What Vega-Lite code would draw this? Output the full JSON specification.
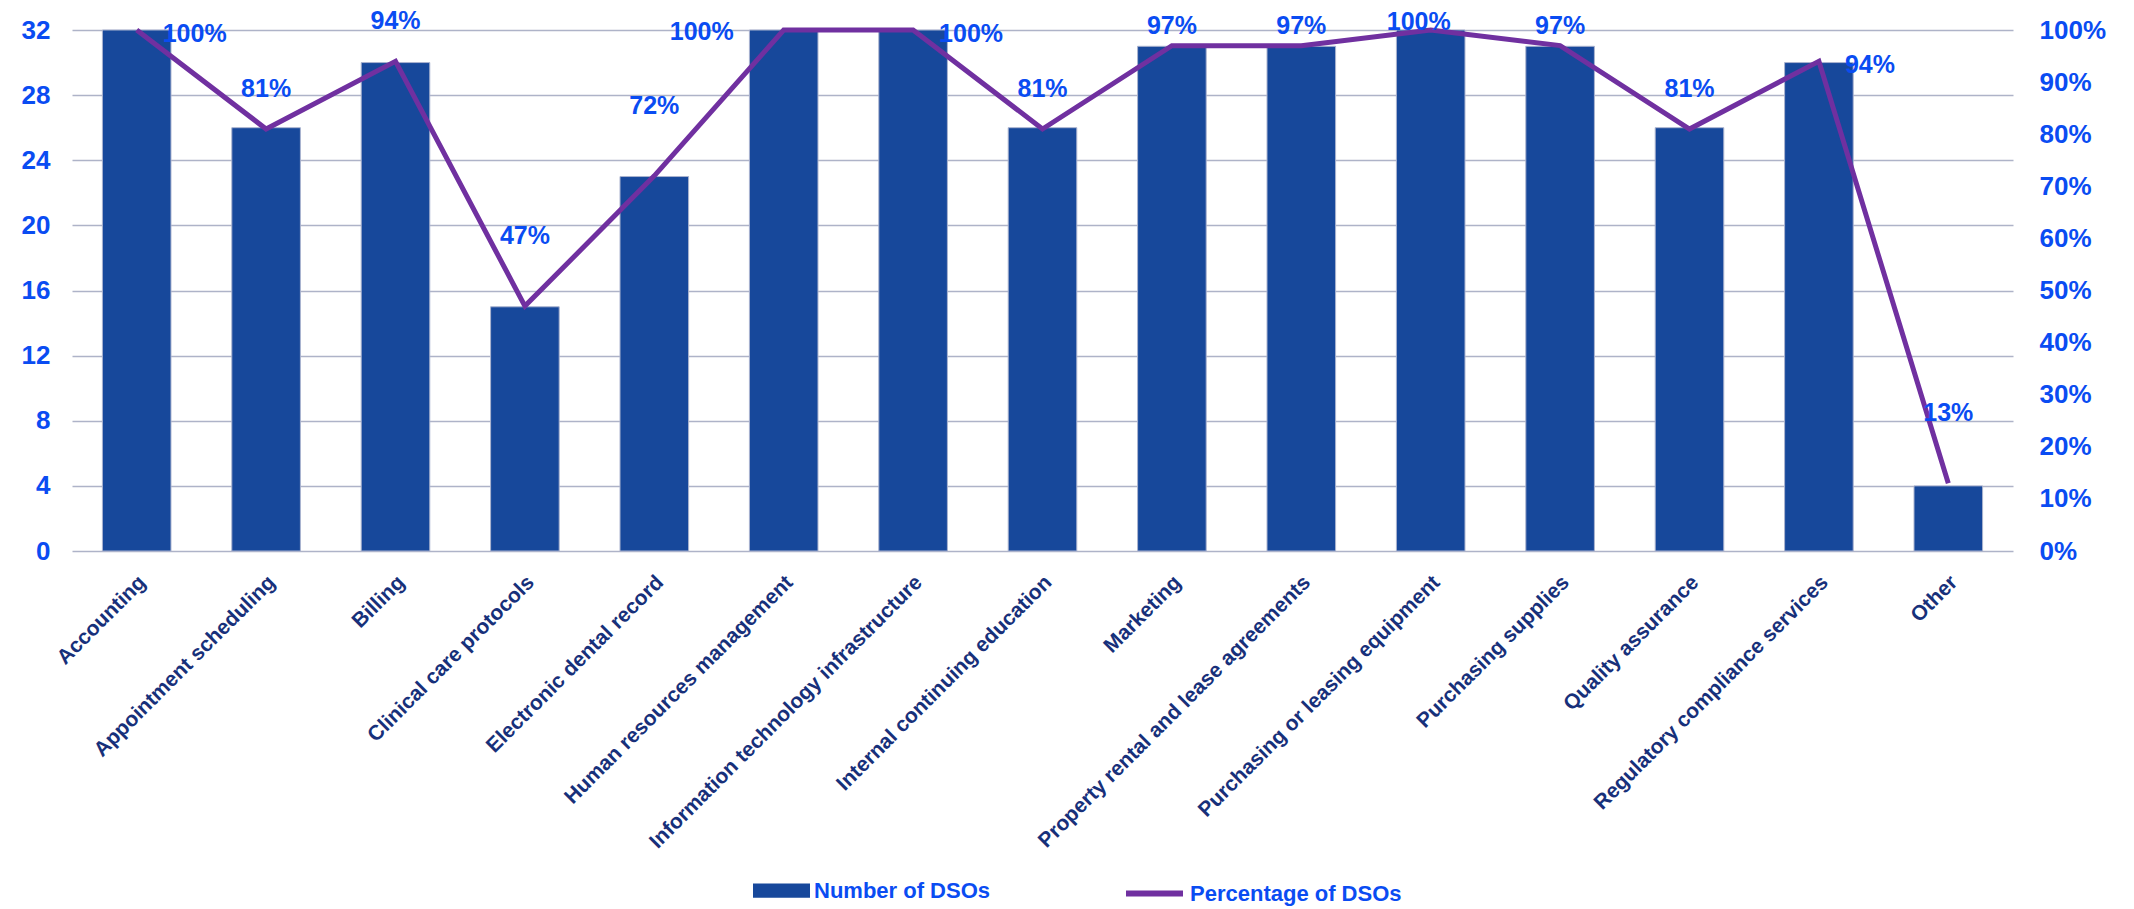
{
  "$schema": "https://vega.github.io/schema/vega-lite/v6.json",
  "width": 1941,
  "height": 521,
  "autosize": {"type": "none"},
  "padding": {"left": 72, "top": 30, "right": 121, "bottom": 358},
  "background": "white",
  "config": {
    "view": {"stroke": null},
    "font": "Liberation Sans",
    "text": {"fontSize": 25, "fontWeight": "bold", "color": "#0A4CF2"}
  },
  "data": {
    "values": [
      {"service": "Accounting", "count": 32, "pct": 1.0},
      {"service": "Appointment scheduling", "count": 26, "pct": 0.81},
      {"service": "Billing", "count": 30, "pct": 0.94},
      {"service": "Clinical care protocols", "count": 15, "pct": 0.47},
      {"service": "Electronic dental record", "count": 23, "pct": 0.72},
      {"service": "Human resources management", "count": 32, "pct": 1.0},
      {"service": "Information technology infrastructure", "count": 32, "pct": 1.0},
      {"service": "Internal continuing education", "count": 26, "pct": 0.81},
      {"service": "Marketing", "count": 31, "pct": 0.97},
      {"service": "Property rental and lease agreements", "count": 31, "pct": 0.97},
      {"service": "Purchasing or leasing equipment", "count": 32, "pct": 1.0},
      {"service": "Purchasing supplies", "count": 31, "pct": 0.97},
      {"service": "Quality assurance", "count": 26, "pct": 0.81},
      {"service": "Regulatory compliance services", "count": 30, "pct": 0.94},
      {"service": "Other", "count": 4, "pct": 0.13}
    ]
  },
  "encoding": {
    "x": {
      "field": "service",
      "type": "nominal",
      "sort": null,
      "title": null,
      "scale": {"paddingInner": 0.47, "paddingOuter": 0.235},
      "axis": {
        "labelAngle": -45,
        "labelAlign": "right",
        "labelBaseline": "middle",
        "labelPadding": 28,
        "labelOffset": 6,
        "labelFont": "Liberation Sans",
        "labelFontWeight": "bold",
        "labelFontSize": 21,
        "labelColor": "#17307A",
        "labelLimit": 600,
        "ticks": false,
        "domain": false
      }
    }
  },
  "layer": [
    {
      "mark": {"type": "bar", "stroke": "#aab3cf", "strokeWidth": 1},
      "encoding": {
        "y": {
          "field": "count",
          "type": "quantitative",
          "title": null,
          "scale": {"domain": [0, 32], "nice": false},
          "axis": {
            "values": [0, 4, 8, 12, 16, 20, 24, 28, 32],
            "labelFontSize": 26,
            "labelFontWeight": "bold",
            "labelColor": "#0A4CF2",
            "labelPadding": 22,
            "ticks": false,
            "domain": false,
            "gridColor": "#AEB3C8",
            "gridWidth": 1.5
          }
        },
        "fill": {
          "datum": "Number of DSOs",
          "scale": {"range": ["#17489B"]},
          "legend": {
            "title": null,
            "orient": "none",
            "legendX": 681,
            "legendY": 832,
            "symbolType": "M-1,-0.25L1,-0.25L1,0.25L-1,0.25Z",
            "symbolSize": 3249,
            "symbolStrokeWidth": 0,
            "labelFont": "Liberation Sans",
            "labelFontWeight": "bold",
            "labelFontSize": 22,
            "labelColor": "#0A4CF2",
            "labelLimit": 400,
            "labelOffset": 4
          }
        }
      }
    },
    {
      "layer": [
        {
          "mark": {"type": "line", "strokeWidth": 5},
          "encoding": {
            "y": {
              "field": "pct",
              "type": "quantitative",
              "title": null,
              "scale": {"domain": [0, 1], "nice": false},
              "axis": {
                "orient": "right",
                "values": [0, 0.1, 0.2, 0.3, 0.4, 0.5, 0.6, 0.7, 0.8, 0.9, 1.0],
                "format": ".0%",
                "labelFontSize": 26,
                "labelFontWeight": "bold",
                "labelColor": "#0A4CF2",
                "labelPadding": 26,
                "ticks": false,
                "domain": false,
                "grid": false
              }
            },
            "stroke": {
              "datum": "Percentage of DSOs",
              "scale": {"range": ["#7030A0"]},
              "legend": {
                "title": null,
                "orient": "none",
                "legendX": 1051,
                "legendY": 832,
                "symbolType": "stroke",
                "symbolSize": 3249,
                "symbolStrokeWidth": 6,
                "labelFont": "Liberation Sans",
                "labelFontWeight": "bold",
                "labelFontSize": 22,
                "labelColor": "#0A4CF2",
                "labelLimit": 400,
                "labelOffset": 4
              }
            }
          }
        },
        {
          "transform": [{"filter": "datum.pct < 0.75"}],
          "mark": {"type": "text", "dy": -70},
          "encoding": {
            "y": {"field": "pct", "type": "quantitative", "title": null},
            "text": {"field": "pct", "type": "quantitative", "format": ".0%"}
          }
        },
        {
          "transform": [{"filter": "datum.pct >= 0.75 && datum.pct < 0.95 && datum.service != 'Regulatory compliance services'"}],
          "mark": {"type": "text", "dy": -40},
          "encoding": {
            "y": {"field": "pct", "type": "quantitative", "title": null},
            "text": {"field": "pct", "type": "quantitative", "format": ".0%"}
          }
        },
        {
          "transform": [{"filter": "datum.pct >= 0.95 && datum.pct < 1"}],
          "mark": {"type": "text", "dy": -20},
          "encoding": {
            "y": {"field": "pct", "type": "quantitative", "title": null},
            "text": {"field": "pct", "type": "quantitative", "format": ".0%"}
          }
        },
        {
          "transform": [{"filter": "datum.service == 'Accounting' || datum.service == 'Information technology infrastructure' || datum.service == 'Regulatory compliance services'"}],
          "mark": {"type": "text", "align": "left", "dx": 26, "dy": 4},
          "encoding": {
            "y": {"field": "pct", "type": "quantitative", "title": null},
            "text": {"field": "pct", "type": "quantitative", "format": ".0%"}
          }
        },
        {
          "transform": [{"filter": "datum.service == 'Human resources management'"}],
          "mark": {"type": "text", "align": "right", "dx": -50, "dy": 2},
          "encoding": {
            "y": {"field": "pct", "type": "quantitative", "title": null},
            "text": {"field": "pct", "type": "quantitative", "format": ".0%"}
          }
        },
        {
          "transform": [{"filter": "datum.service == 'Purchasing or leasing equipment'"}],
          "mark": {"type": "text", "dx": -12, "dy": -8},
          "encoding": {
            "y": {"field": "pct", "type": "quantitative", "title": null},
            "text": {"field": "pct", "type": "quantitative", "format": ".0%"}
          }
        }
      ]
    }
  ],
  "resolve": {"scale": {"y": "independent"}}
}
